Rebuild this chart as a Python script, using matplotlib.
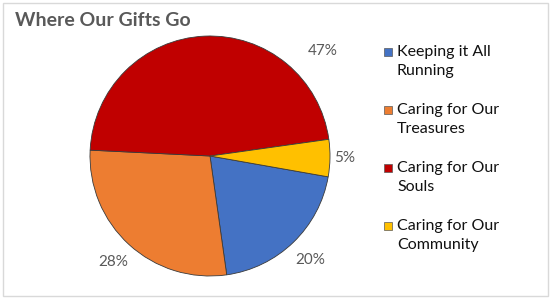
import matplotlib
matplotlib.use("Agg")
import matplotlib.pyplot as plt
from matplotlib.patches import Rectangle
import numpy as np

plt.rcParams['font.family'] = ['Lato', 'DejaVu Sans']

categories = ["Keeping it All\nRunning", "Caring for Our\nTreasures",
              "Caring for Our\nSouls", "Caring for Our\nCommunity"]
values = [20, 28, 47, 5]
colors = ["#4472C4", "#ED7D31", "#C00000", "#FFC000"]

W, H = 550, 300
fig = plt.figure(figsize=(W / 100, H / 100), dpi=100)

# light chart border
fig.patches.append(Rectangle((3 / W, 4 / H), 545 / W, 293 / H, transform=fig.transFigure,
                             fill=False, edgecolor="#D9D9D9", linewidth=1))

fig.text(15 / W, 1 - 20 / H, "Where Our Gifts Go", fontsize=14, fontweight="bold",
         color="#595959", ha="left", va="center")

cx, cy, r = 210, 156, 120
ax = fig.add_axes([(cx - r) / W, (H - cy - r) / H, 2 * r / W, 2 * r / H])
wedges, texts, autotexts = ax.pie(values, colors=colors, startangle=-10, counterclock=False,
                                  autopct="%d%%", pctdistance=1.2,
                                  wedgeprops=dict(edgecolor="#3a3a3a", linewidth=0.6),
                                  textprops=dict(fontsize=11, color="#595959"))
ax.set_xlim(-1, 1)
ax.set_ylim(-1, 1)
ax.set_aspect("equal")
ax.axis("off")

# Excel "best fit" nudges the big slice's label to the upper right
a = np.deg2rad(43)
autotexts[2].set_position((1.28 * np.cos(a), 1.28 * np.sin(a)))
autotexts[3].set_position((1.12, -0.02))

# legend
for i, (lab, col) in enumerate(zip(categories, colors)):
    ytop = 52 + i * 58
    fig.patches.append(Rectangle((384 / W, 1 - (ytop + 4) / H), 8 / W, 8 / H,
                                 transform=fig.transFigure, facecolor=col,
                                 edgecolor="#595959", linewidth=0.5))
    fig.text(397 / W, 1 - (ytop - 7) / H, lab, fontsize=11.5, color="#111111",
             ha="left", va="top", linespacing=1.45)

fig.savefig("out.png", dpi=100)
